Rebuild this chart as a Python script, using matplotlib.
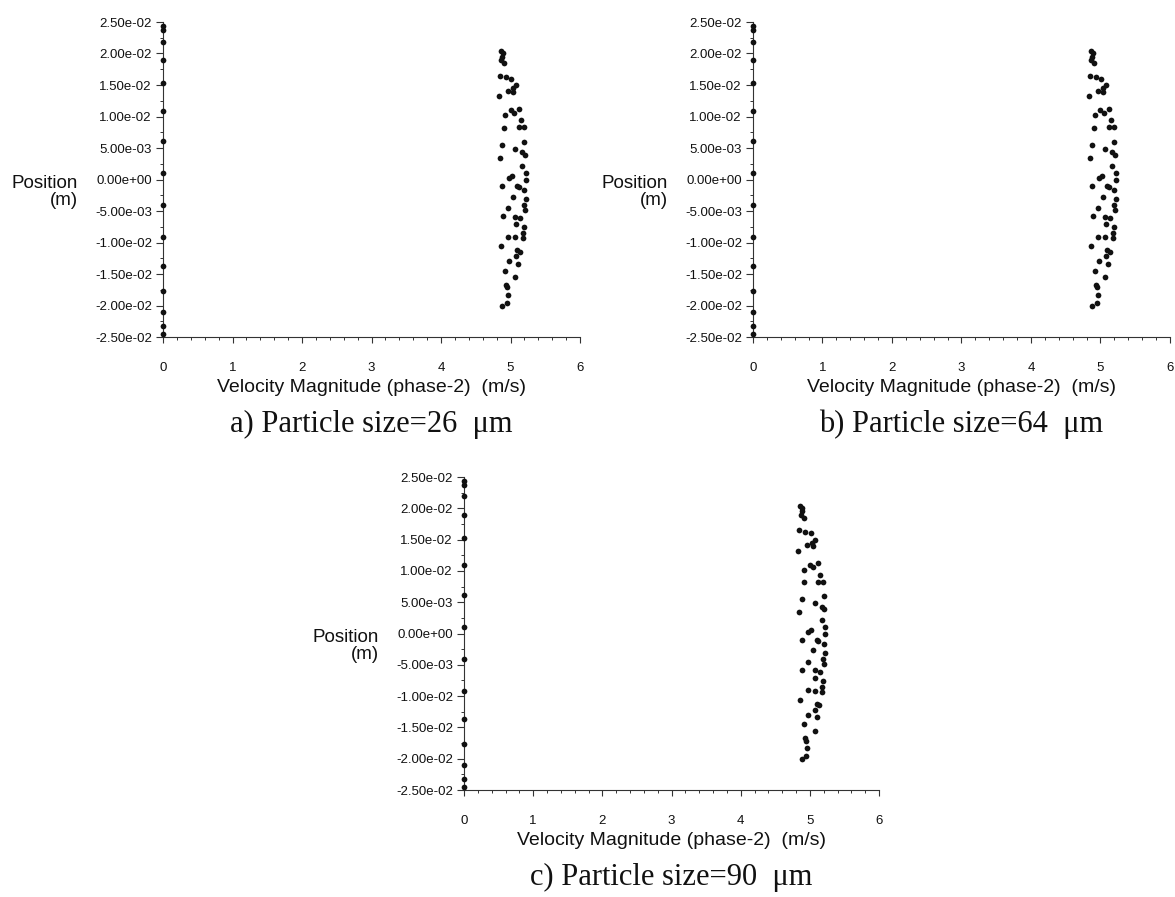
import matplotlib
matplotlib.use("Agg")
import matplotlib.pyplot as plt
from matplotlib.ticker import MultipleLocator, FuncFormatter

plt.rcParams.update({
    "font.family": "Liberation Sans",
    "axes.spines.top": False, "axes.spines.right": False,
})

INK = "#111111"
AXIS = "#333333"

# particles sitting on the wall (velocity 0), position in m
wall_pos = [0.0243, 0.0238, 0.0219, 0.0190, 0.0153, 0.0109, 0.0061, 0.0010,
            -0.0041, -0.0092, -0.0137, -0.0177, -0.0210, -0.0232, -0.0245]

# particles in the jet core: velocity magnitude (m/s) and position (m)
core_vel = [4.86, 4.89, 4.88, 4.87, 4.91, 4.85, 4.93, 5.01, 5.08, 5.03,
            4.96, 5.04, 4.83, 5.12, 5.00, 5.05, 4.92, 5.15, 4.91, 5.12,
            5.19, 5.20, 4.88, 5.07, 5.17, 5.21, 4.85, 5.17, 5.22, 5.02,
            4.98, 5.22, 4.88, 5.10, 5.12, 5.20, 5.04, 5.22, 4.97, 5.19,
            5.21, 4.89, 5.07, 5.14, 5.08, 5.19, 5.18, 5.18, 4.97, 5.07,
            4.86, 5.10, 5.13, 5.08, 4.98, 5.11, 4.92, 5.07, 4.93, 4.95,
            4.96, 4.95, 4.88]
core_pos = [0.0204, 0.0201, 0.0195, 0.0190, 0.0185, 0.0165, 0.0162, 0.0160,
            0.0150, 0.0145, 0.0141, 0.0139, 0.0132, 0.0112, 0.0110, 0.0106,
            0.0102, 0.0094, 0.0082, 0.0083, 0.0083, 0.0060, 0.0055, 0.0049,
            0.0043, 0.0039, 0.0034, 0.0022, 0.0011, 0.0006, 0.0002, 0.0000,
            -0.0010, -0.0011, -0.0012, -0.0016, -0.0027, -0.0031, -0.0046,
            -0.0040, -0.0049, -0.0058, -0.0059, -0.0061, -0.0071, -0.0076,
            -0.0085, -0.0093, -0.0091, -0.0092, -0.0106, -0.0112, -0.0115,
            -0.0122, -0.0130, -0.0134, -0.0145, -0.0155, -0.0167, -0.0171,
            -0.0183, -0.0196, -0.0201]

panels = ["a) Particle size=26  μm", "b) Particle size=64  μm",
          "c) Particle size=90  μm"]

W, H = 1175, 897
# axes boxes in pixels: x of v=0, x of v=6, y of +2.5e-2, y of -2.5e-2
boxes = [(163, 580, 22, 337), (753, 1170, 22, 337), (464, 879, 477, 790)]


def sci(v, pos):
    if abs(v) < 1e-10:
        v = 0.0
    return "%.2e" % v


fig = plt.figure(figsize=(W / 100, H / 100), dpi=100)
fig.patch.set_facecolor("white")

for (x0, x1, ytop, ybot), title in zip(boxes, panels):
    ax = fig.add_axes([x0 / W, 1 - ybot / H, (x1 - x0) / W, (ybot - ytop) / H])
    ax.scatter([0] * len(wall_pos), wall_pos, s=17, color=INK, zorder=3,
               clip_on=False, linewidths=0)
    ax.scatter(core_vel, core_pos, s=17, color=INK, zorder=3, linewidths=0)
    ax.set_xlim(0, 6)
    ax.set_ylim(-0.025, 0.025)
    ax.xaxis.set_major_locator(MultipleLocator(1))
    ax.xaxis.set_minor_locator(MultipleLocator(0.2))
    ax.yaxis.set_major_locator(MultipleLocator(0.005))
    ax.yaxis.set_minor_locator(MultipleLocator(0.0025))
    ax.yaxis.set_major_formatter(FuncFormatter(sci))
    for s in ("left", "bottom"):
        ax.spines[s].set_color(AXIS)
        ax.spines[s].set_linewidth(0.8)
    ax.tick_params(axis="x", which="major", length=4, width=0.8, color=AXIS,
                   pad=14, labelsize=9.5, labelcolor=INK)
    ax.tick_params(axis="y", which="major", length=5, width=0.8, color=AXIS,
                   pad=3, labelsize=9.5, labelcolor=INK)
    ax.tick_params(which="minor", length=2.5, width=0.7, color=AXIS)

    cx = (x0 + x1) / 2
    yzero = (ytop + ybot) / 2
    fig.text((x0 - 85) / W, 1 - (yzero + 12) / H, "Position\n(m)",
             ha="right", va="center", multialignment="right",
             fontsize=13.5, color=INK, linespacing=1.0)
    fig.text(cx / W, 1 - (ybot + 50) / H,
             "Velocity Magnitude (phase-2)  (m/s)", ha="center", va="center",
             fontsize=14, color=INK)
    fig.text(cx / W, 1 - (ybot + 87) / H, title, ha="center", va="center",
             fontsize=22, family="Liberation Serif", color=INK)

fig.savefig("out.png", dpi=100)
